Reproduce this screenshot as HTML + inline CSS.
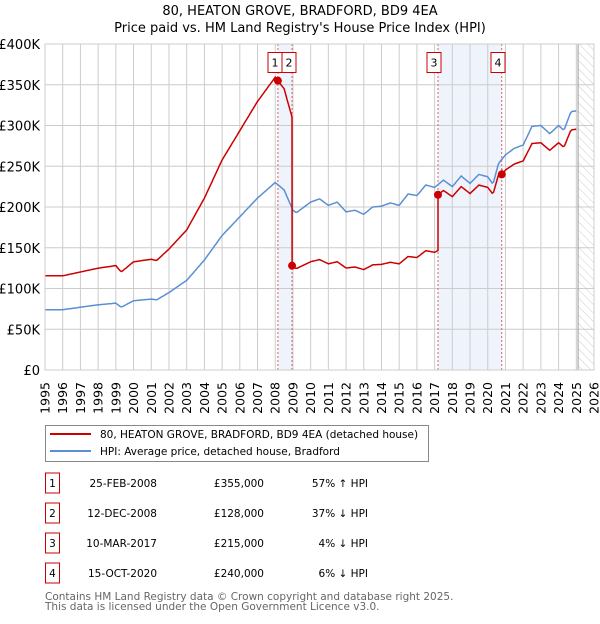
<!DOCTYPE html>
<html><head><meta charset="utf-8">
<style>
body{margin:0;background:#fff;width:600px;height:620px;overflow:hidden;font-family:"DejaVu Sans","Liberation Sans",sans-serif;}
svg text{font-family:"DejaVu Sans","Liberation Sans",sans-serif;}
</style></head>
<body>
<svg id="chart" width="600" height="620" xmlns="http://www.w3.org/2000/svg">
<defs>
<pattern id="hatch" width="6" height="6" patternUnits="userSpaceOnUse" patternTransform="rotate(-45)">
<rect width="6" height="6" fill="#fff"/><line x1="0" y1="0" x2="0" y2="6" stroke="#ccc" stroke-width="1"/>
</pattern>
</defs>
<text x="300" y="15" text-anchor="middle" font-size="13">80, HEATON GROVE, BRADFORD, BD9 4EA</text>
<text x="300" y="32" text-anchor="middle" font-size="13">Price paid vs. HM Land Registry's House Price Index (HPI)</text>
<g id="plot"></g>
<g>
<rect x="45.5" y="425.5" width="383" height="36" fill="#fff" stroke="#888"/>
<line x1="50" y1="434" x2="91" y2="434" stroke="#cc0000" stroke-width="2"/>
<text x="100" y="438" font-size="10.5">80, HEATON GROVE, BRADFORD, BD9 4EA (detached house)</text>
<line x1="50" y1="451" x2="91" y2="451" stroke="#5b8fd4" stroke-width="2"/>
<text x="100" y="455" font-size="10.5">HPI: Average price, detached house, Bradford</text>
</g>
<g id="table"></g>
<text x="45" y="600" font-size="10.5" fill="#666">Contains HM Land Registry data © Crown copyright and database right 2025.</text>
<text x="45" y="610" font-size="10.5" fill="#666">This data is licensed under the Open Government Licence v3.0.</text>
</svg>
<script>
const hpiYears=[1995,1996,1997,1998,1999,1999.3,2000,2001,2001.3,2002,2003,2004,2005,2006,2007,2008,2008.5,2009,2009.2,2010,2010.5,2011,2011.5,2012,2012.5,2013,2013.5,2014,2014.5,2015,2015.5,2016,2016.5,2017,2017.5,2018,2018.5,2019,2019.5,2020,2020.3,2020.6,2021,2021.5,2022,2022.5,2023,2023.5,2024,2024.3,2024.7,2025.05];
const hpiValues=[74,74,77,80,82,77,85,87,86,95,110,135,165,188,211,230,221,196,193,206,210,202,206,194,196,191,200,201,205,202,216,214,227,224,233,225,238,229,240,237,228,253,264,272,276,299,300,290,300,294,317,318];
const saleLabels=["1","2","3","4"];
const saleDates=["25-FEB-2008","12-DEC-2008","10-MAR-2017","15-OCT-2020"];
const saleTimes=[2008.15,2008.95,2017.19,2020.79];
const salePrices=[355,128,215,240];
const salePriceText=["£355,000","£128,000","£215,000","£240,000"];
const saleHpiText=["57% \u2191 HPI","37% \u2193 HPI","4% \u2193 HPI","6% \u2193 HPI"];
const yTicks=[0,50,100,150,200,250,300,350,400];
const yTickLabels=["£0","£50K","£100K","£150K","£200K","£250K","£300K","£350K","£400K"];
const xTicks=[1995,1996,1997,1998,1999,2000,2001,2002,2003,2004,2005,2006,2007,2008,2009,2010,2011,2012,2013,2014,2015,2016,2017,2018,2019,2020,2021,2022,2023,2024,2025,2026];

const NS="http://www.w3.org/2000/svg";
const X0=45,X1=594,Y0=370,Y1=44;
const xs=t=>X0+(t-1995)/(2026-1995)*(X1-X0);
const ys=v=>Y0-v/400*(Y0-Y1);
function mk(tag,attrs,parent){const e=document.createElementNS(NS,tag);for(const k in attrs)e.setAttribute(k,attrs[k]);parent.appendChild(e);return e;}
function hpi(t){if(t<=hpiYears[0])return hpiValues[0];for(let i=1;i<hpiYears.length;i++){if(t<=hpiYears[i]){const f=(t-hpiYears[i-1])/(hpiYears[i]-hpiYears[i-1]);return hpiValues[i-1]+f*(hpiValues[i]-hpiValues[i-1]);}}return hpiValues[hpiValues.length-1];}
const plot=document.getElementById('plot');
for(const [a,b] of [[0,1],[2,3]]){const r=mk('rect',{x:xs(saleTimes[a]),y:Y1,width:xs(saleTimes[b])-xs(saleTimes[a]),height:Y0-Y1,fill:'#eef3fc'},plot);

}
const h=mk('rect',{x:xs(2025.1),y:Y1,width:X1-xs(2025.1),height:Y0-Y1,fill:'url(#hatch)'},plot);


for(let i=0;i<yTicks.length;i++){const y=ys(yTicks[i]);mk('line',{x1:X0,x2:X1,y1:y,y2:y,stroke:'#ccc'},plot);
const t=mk('text',{x:40,y:y+5,'text-anchor':'end','font-size':'13'},plot);t.textContent=yTickLabels[i];

}
for(const yr of xTicks){const x=xs(yr);mk('line',{x1:x,x2:x,y1:Y1,y2:Y0,stroke:'#ccc'},plot);
const t=mk('text',{x:0,y:0,'text-anchor':'end','font-size':'12.5',transform:`translate(${(x+4.5).toFixed(1)},382) rotate(-90)`},plot);t.textContent=yr;

}
mk('line',{x1:xs(2025.1),x2:xs(2025.1),y1:Y1,y2:Y0,stroke:'#999'},plot);
for(const t of saleTimes){const l=mk('line',{x1:xs(t),x2:xs(t),y1:Y1,y2:Y0,stroke:'#e06060','stroke-dasharray':'2,2'},plot);

}
let d='';for(let t=1995;t<=2025.05;t+=1/12){d+=(d?'L':'M')+xs(t).toFixed(1)+','+ys(hpi(t)).toFixed(1);}
const hl=mk('path',{d:d,fill:'none',stroke:'#5b8fd4','stroke-width':1.5},plot);


function pp(t){let idx=-1;for(let i=0;i<saleTimes.length;i++)if(t>=saleTimes[i])idx=i;const k=idx<0?0:idx;return salePrices[k]*hpi(t)/hpi(saleTimes[k]);}
let pts=[];for(let t=1995;t<=2025.05;t+=1/12){pts.push(t);}
for(const s of saleTimes){pts.push(s-1e-4,s);}pts.sort((a,b)=>a-b);
let d2='';for(const t of pts){d2+=(d2?'L':'M')+xs(t).toFixed(1)+','+ys(pp(t)).toFixed(1);}
const pl=mk('path',{d:d2,fill:'none',stroke:'#cc0000','stroke-width':1.5},plot);


const boxX=[275,289,434,498];
for(let i=0;i<saleTimes.length;i++){const c=mk('circle',{cx:xs(saleTimes[i]),cy:ys(salePrices[i]),r:4,fill:'#cc0000'},plot);


const g=mk('g',{},plot);


mk('rect',{x:boxX[i]-7,y:52.5,width:14,height:20,fill:'#fff',stroke:'#cc0000'},g);
const t=mk('text',{x:boxX[i],y:66.5,'text-anchor':'middle','font-size':'11'},g);t.textContent=saleLabels[i];}
mk('rect',{x:X0,y:Y1,width:X1-X0,height:Y0-Y1,fill:'none',stroke:'#ccc'},plot);
const tb=document.getElementById('table');
for(let i=0;i<saleLabels.length;i++){const cy=483+i*30;
const g=mk('g',{},tb);


mk('rect',{x:45.5,y:cy-10,width:14,height:20,fill:'#fff',stroke:'#cc0000'},g);
const a=mk('text',{x:52.5,y:cy+4,'text-anchor':'middle','font-size':'10.5'},g);a.textContent=saleLabels[i];
const b=mk('text',{x:157,y:cy+4,'text-anchor':'end','font-size':'10.5'},g);b.textContent=saleDates[i];
const c=mk('text',{x:264,y:cy+4,'text-anchor':'end','font-size':'10.5'},g);c.textContent=salePriceText[i];
const e=mk('text',{x:368,y:cy+4,'text-anchor':'end','font-size':'10.5'},g);e.textContent=saleHpiText[i];}
</script>
</body></html>
